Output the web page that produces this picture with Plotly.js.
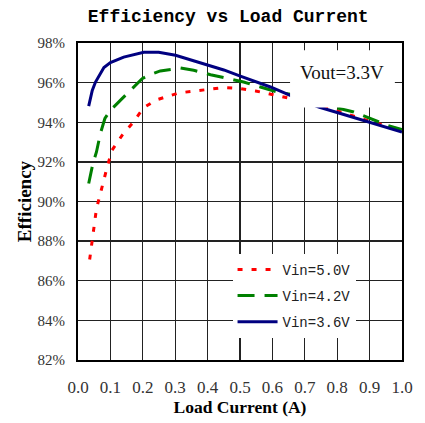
<!DOCTYPE html>
<html><head><meta charset="utf-8">
<script src="https://cdn.plot.ly/plotly-3.0.1.min.js"></script>
<style>html,body{margin:0;padding:0;background:#fff;}#chart{width:425px;height:423px;}</style>
</head><body><div id="chart"></div>
<script>
// Data
const seriesNames = ["Vin=5.0V", "Vin=4.2V", "Vin=3.6V"];
const x50 = [0.036, 0.044, 0.052, 0.057, 0.069, 0.080, 0.090, 0.105, 0.136, 0.167, 0.203, 0.244, 0.311, 0.398, 0.450, 0.501, 0.548, 0.599, 0.647, 0.70, 0.805, 0.90, 1.0];
const y50 = [87.07, 87.96, 88.89, 89.64, 90.40, 91.16, 91.74, 92.59, 93.34, 93.93, 94.74, 95.14, 95.48, 95.65, 95.75, 95.70, 95.58, 95.40, 95.23, 95.00, 94.55, 94.05, 93.60];
const x42 = [0.033, 0.046, 0.057, 0.069, 0.083, 0.100, 0.136, 0.162, 0.198, 0.224, 0.254, 0.316, 0.357, 0.409, 0.511, 0.563, 0.614, 0.655, 0.70, 0.800, 0.851, 0.954, 1.0];
const y42 = [90.91, 91.92, 92.50, 93.43, 94.19, 94.60, 95.19, 95.61, 96.20, 96.41, 96.59, 96.74, 96.62, 96.40, 96.03, 95.78, 95.53, 95.41, 95.15, 94.72, 94.52, 93.85, 93.63];
const x36 = [0.033, 0.044, 0.054, 0.080, 0.100, 0.141, 0.203, 0.249, 0.301, 0.383, 0.450, 0.501, 0.594, 0.655, 0.743, 0.810, 0.902, 1.0];
const y36 = [94.81, 95.61, 96.03, 96.76, 97.01, 97.29, 97.53, 97.53, 97.38, 96.96, 96.64, 96.33, 95.78, 95.36, 94.77, 94.44, 94.00, 93.51];
const xTicks = [0.0, 0.1, 0.2, 0.3, 0.4, 0.5, 0.6, 0.7, 0.8, 0.9, 1.0];
const xTickText = ["0.0", "0.1", "0.2", "0.3", "0.4", "0.5", "0.6", "0.7", "0.8", "0.9", "1.0"];
const yTicks = [82, 84, 86, 88, 90, 92, 94, 96, 98];
const yTickText = ["82%", "84%", "86%", "88%", "90%", "92%", "94%", "96%", "98%"];

const traces = [
  {x: x50, y: y50, name: seriesNames[0], mode: "lines", legendgroup: "a",
   line: {color: "#ff0000", width: 3, dash: "5px,9px"}},
  {x: x42, y: y42, name: seriesNames[1], mode: "lines", legendgroup: "b",
   line: {color: "#008000", width: 3, dash: "17px,10px"}},
  {x: x36, y: y36, name: seriesNames[2], mode: "lines", legendgroup: "c",
   line: {color: "#000080", width: 3}}
];

const layout = {
  width: 425, height: 423,
  margin: {l: 77.5, r: 23.3, t: 42.7, b: 63},
  paper_bgcolor: "#fff", plot_bgcolor: "#fff",
  title: {text: "Efficiency vs Load Current", x: 0.537, xanchor: "center", y: 0.963, yanchor: "middle",
          font: {family: "Liberation Mono", size: 18, color: "#000", weight: "bold"}},
  xaxis: {range: [0, 1], tickvals: xTicks, ticktext: xTickText, ticks: "", showgrid: true,
          gridcolor: "#222", gridwidth: 1.3, zeroline: false,
          showline: true, mirror: true, linecolor: "#000", linewidth: 2,
          tickfont: {family: "Liberation Serif", size: 17, color: "#333"}, ticklabelstandoff: 11,
          title: {text: "Load Current (A)", standoff: 4,
                  font: {family: "Liberation Serif", size: 17.5, color: "#000", weight: "bold"}}},
  yaxis: {range: [82, 98], tickvals: yTicks, ticktext: yTickText, ticks: "", showgrid: true,
          gridcolor: "#222", gridwidth: 1.3, zeroline: false,
          showline: true, mirror: true, linecolor: "#000", linewidth: 2,
          tickfont: {family: "Liberation Serif", size: 15, color: "#333"}, ticklabelstandoff: 8,
          title: {text: "Efficiency", standoff: 1,
                  font: {family: "Liberation Serif", size: 19, color: "#000", weight: "bold"}}},
  showlegend: true,
  legend: {x: 0.477, y: 0.335, xanchor: "left", yanchor: "top", bgcolor: "#fff", borderwidth: 0,
           traceorder: "grouped", tracegroupgap: 5, itemwidth: 40,
           font: {family: "Liberation Mono", size: 14, color: "#222"}},
  shapes: [{type: "rect", xref: "x", yref: "y", x0: 0.6545, x1: 0.978, y0: 94.75, y1: 97.63,
            fillcolor: "#fff", line: {width: 0}, layer: "above"}],
  annotations: [{xref: "x", yref: "y", x: 0.816, y: 96.5, text: "Vout=3.3V", showarrow: false,
                 font: {family: "Liberation Serif", size: 19, color: "#111"}}]
};

Plotly.newPlot("chart", traces, layout, {displayModeBar: false, staticPlot: true});
</script></body></html>
